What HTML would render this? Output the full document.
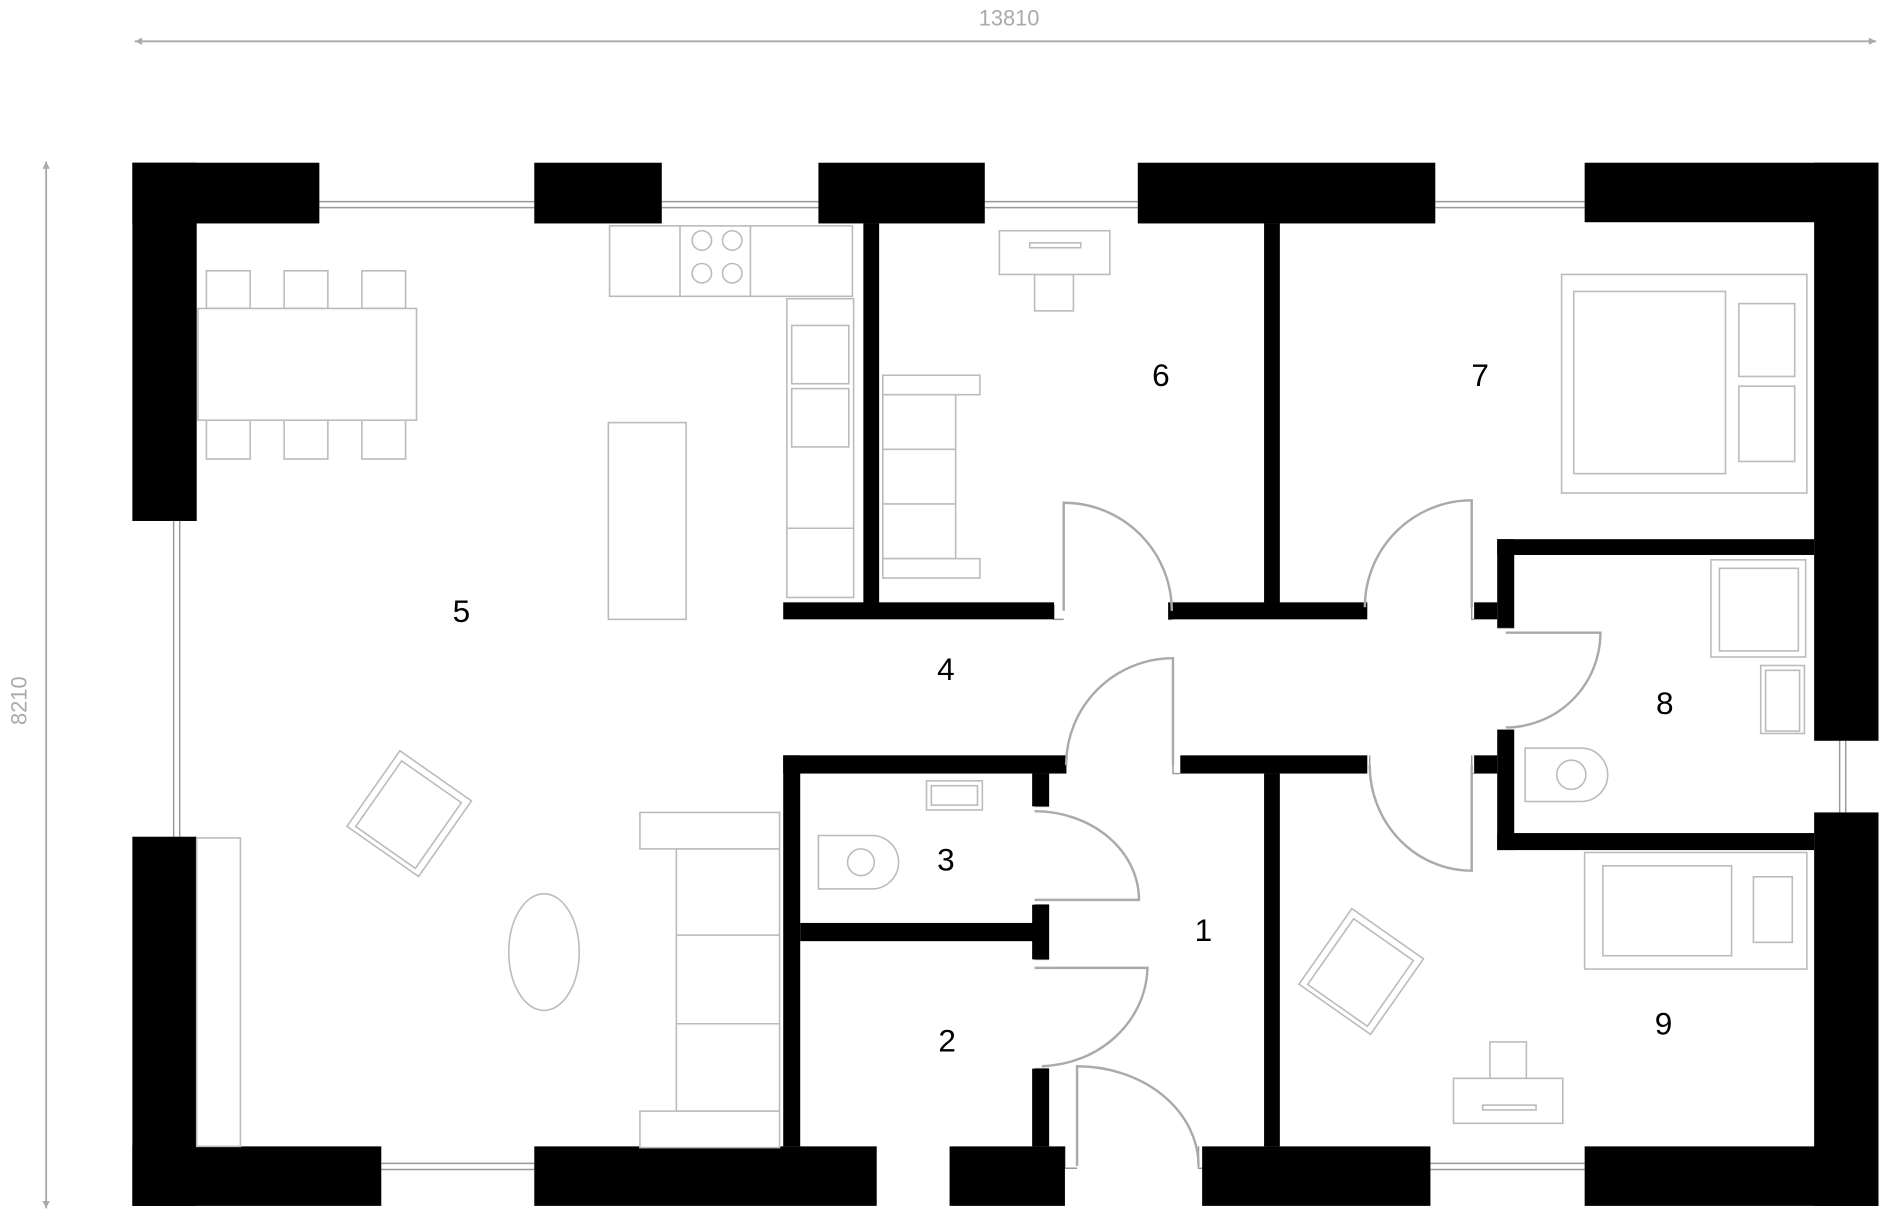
<!DOCTYPE html>
<html><head><meta charset="utf-8"><style>html,body{margin:0;padding:0;background:#fff}svg{display:block}</style></head>
<body>
<svg width="1904" height="1232" viewBox="0 0 1568 1014.5" preserveAspectRatio="none" xmlns="http://www.w3.org/2000/svg" font-family="Liberation Sans, sans-serif">
<rect width="1568" height="1015" fill="#fff"/>
<g stroke="#aaa" stroke-width="1.5" fill="#aaa">
<line x1="111" y1="34" x2="1545" y2="34"/>
<path d="M111,34 l6,-3 v6z M1545,34 l-6,-3 v6z" stroke="none"/>
<line x1="38" y1="133" x2="38" y2="995"/>
<path d="M38,133 l-3,6 h6z M38,995 l-3,-6 h6z" stroke="none"/>
</g>
<text x="831" y="21" font-size="18" fill="#aaa" text-anchor="middle">13810</text>
<text transform="translate(22,577) rotate(-90)" font-size="18" fill="#aaa" text-anchor="middle">8210</text>
<g stroke="#999" stroke-width="1.2" fill="none">
<path d="M263,166H440M263,171H440M545,166H674M545,171H674M811,166H937M811,171H937M1182,166H1305M1182,171H1305"/>
<path d="M314,958H440M314,963H440M1178,958H1305M1178,963H1305"/>
<path d="M143,429V689M148,429V689M1515,610V669M1520,610V669"/>
<path d="M868,498V510H876M965,498V510H962M1124,498V510M1212,498V510H1214M1233,517H1247M1233,601H1247M878,622V637M966,622V637H972M1128,622V637M1212,622V637H1214M852,664H864M852,745H864M852,790H864M852,880H864M877,944V962H887M987,944V962H990"/>
</g>
<g fill="#000">
<rect x="109" y="134" width="154" height="50"/><rect x="109" y="134" width="53" height="295"/>
<rect x="440" y="134" width="105" height="50"/><rect x="674" y="134" width="137" height="50"/>
<rect x="937" y="134" width="245" height="50"/><rect x="1305" y="134" width="242" height="49"/>
<rect x="1494" y="134" width="53" height="476"/><rect x="1494" y="669" width="53" height="324"/>
<rect x="1305" y="944" width="242" height="49"/>
<rect x="109" y="689" width="53" height="304"/><rect x="109" y="944" width="205" height="49"/>
<rect x="440" y="944" width="282" height="49"/><rect x="782" y="944" width="95" height="49"/>
<rect x="990" y="944" width="188" height="49"/>
<rect x="711" y="184" width="13" height="313"/><rect x="645" y="496" width="223" height="14"/>
<rect x="962" y="496" width="164" height="14"/><rect x="1041" y="184" width="13" height="313"/>
<rect x="1233" y="444" width="261" height="13"/><rect x="1233" y="444" width="14" height="73"/>
<rect x="1214" y="496" width="19" height="14"/><rect x="1233" y="601" width="14" height="99"/>
<rect x="1214" y="622" width="19" height="15"/><rect x="1233" y="686" width="261" height="14"/>
<rect x="645" y="622" width="233" height="15"/><rect x="645" y="622" width="14" height="322"/>
<rect x="972" y="622" width="154" height="15"/><rect x="1041" y="637" width="13" height="307"/>
<rect x="659" y="760" width="203" height="15"/>
<rect x="850" y="637" width="14" height="27"/><rect x="850" y="745" width="14" height="45"/>
<rect x="850" y="880" width="14" height="64"/>
</g>
<g stroke="#aaa" stroke-width="2" fill="none">
<path d="M876,503V414A89,89 0 0 1 965,503"/>
<path d="M1212,500V412A88,88 0 0 0 1124,500"/>
<path d="M1240,521H1318A78,78 0 0 1 1240,599"/>
<path d="M966,630V542A88,88 0 0 0 878,630"/>
<path d="M1212,630V717A84,87 0 0 1 1128,630"/>
<path d="M852,741H938A86,73 0 0 0 852,668"/>
<path d="M852,797H945A90,83 0 0 1 858,878"/>
<path d="M887,960V878A100,82 0 0 1 987,960"/>
</g>
<g stroke="#bbb" stroke-width="1.3" fill="#fff">
<rect x="170" y="223" width="36" height="31"/><rect x="234" y="223" width="36" height="31"/><rect x="298" y="223" width="36" height="31"/>
<rect x="170" y="346" width="36" height="32"/><rect x="234" y="346" width="36" height="32"/><rect x="298" y="346" width="36" height="32"/>
<rect x="163" y="254" width="180" height="92"/>
<rect x="502" y="186" width="200" height="58"/><path d="M560,186V244M618,186V244"/>
<circle cx="578" cy="198" r="8"/><circle cx="603" cy="198" r="8"/><circle cx="578" cy="225" r="8"/><circle cx="603" cy="225" r="8"/>
<rect x="648" y="246" width="55" height="246"/><rect x="652" y="268" width="47" height="48"/><rect x="652" y="320" width="47" height="48"/><path d="M648,435H703"/>
<rect x="501" y="348" width="64" height="162"/>
<rect x="727" y="325" width="60" height="135"/><path d="M727,370H787M727,415H787"/>
<rect x="727" y="309" width="80" height="16"/><rect x="727" y="460" width="80" height="16"/>
<rect x="852" y="226" width="32" height="30"/><rect x="823" y="190" width="91" height="36"/><rect x="848" y="200" width="42" height="4"/>
<rect x="1286" y="226" width="202" height="180"/><rect x="1296" y="240" width="125" height="150"/>
<rect x="1432" y="250" width="46" height="60"/><rect x="1432" y="318" width="46" height="62"/>
<rect x="1409" y="461" width="78" height="80"/><rect x="1416" y="468" width="65" height="68"/>
<rect x="1450" y="548" width="36" height="56"/><rect x="1454" y="552" width="28" height="50"/>
<path d="M1256,616H1302A22,22 0 0 1 1302,660H1256Z"/><circle cx="1294" cy="638" r="12"/>
<rect x="763" y="643" width="46" height="24"/><rect x="767" y="647" width="38" height="16"/>
<path d="M674,688H718A22,22 0 0 1 718,732H674Z"/><circle cx="709" cy="710" r="11"/>
<rect x="1305" y="702" width="183" height="96"/><rect x="1320" y="713" width="106" height="74"/><rect x="1444" y="722" width="32" height="54"/>
<rect x="1227" y="858" width="30" height="30"/><rect x="1197" y="888" width="90" height="37"/><rect x="1221" y="910" width="44" height="4"/>
<g transform="translate(1121,800) rotate(35)"><rect x="-36" y="-38" width="72" height="76"/><rect x="-30" y="-32" width="60" height="66"/></g>
<g transform="translate(337,670) rotate(35)"><rect x="-36" y="-38" width="72" height="76"/><rect x="-30" y="-32" width="60" height="66"/></g>
<rect x="557" y="699" width="85" height="216"/><path d="M557,770H642M557,843H642"/>
<rect x="527" y="669" width="115" height="30"/><rect x="527" y="915" width="115" height="30"/>
<ellipse cx="448" cy="784" rx="29" ry="48"/>
<rect x="162" y="690" width="36" height="254"/>
</g>
<g font-size="26" fill="#000" text-anchor="middle">
<text x="991" y="775">1</text><text x="780" y="866">2</text><text x="779" y="717">3</text>
<text x="779" y="560">4</text><text x="380" y="512">5</text><text x="956" y="318">6</text>
<text x="1219" y="318">7</text><text x="1371" y="588">8</text><text x="1370" y="852">9</text>
</g>
</svg>
</body></html>
